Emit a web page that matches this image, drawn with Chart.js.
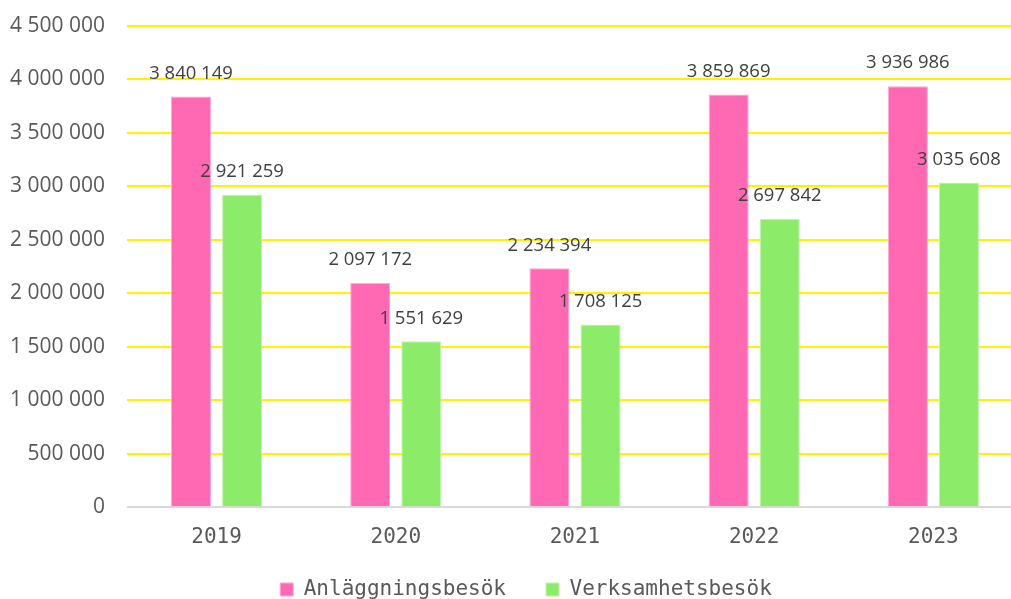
<!DOCTYPE html>
<html>
<head>
<meta charset="utf-8">
<script src="https://cdn.jsdelivr.net/npm/chart.js@4"></script>
<style>
  html, body { margin: 0; padding: 0; background: #fff; overflow: hidden; }
  #chart { display: block; }
</style>
</head>
<body>
<canvas id="chart" width="1024" height="599"></canvas>
<script>
const years = ['2019', '2020', '2021', '2022', '2023'];
const anlaggningsbesok = [3840149, 2097172, 2234394, 3859869, 3936986];
const verksamhetsbesok = [2921259, 1551629, 1708125, 2697842, 3035608];
const seriesNames = ['Anläggningsbesök', 'Verksamhetsbesök'];

function formatSv(v) {
    return String(v).replace(/\B(?=(\d{3})+(?!\d))/g, ' ');
}

// value labels above each bar
const valueLabels = {
    id: 'valueLabels',
    afterDatasetsDraw(chart) {
        const ctx = chart.ctx;
        ctx.save();
        ctx.font = '18.5px "Open Sans"';
        ctx.fillStyle = '#404040';
        ctx.textAlign = 'center';
        ctx.textBaseline = 'middle';
        chart.data.datasets.forEach((ds, i) => {
            chart.getDatasetMeta(i).data.forEach((bar, j) => {
                ctx.fillText(formatSv(ds.data[j]), bar.x, bar.y - 23);
            });
        });
        ctx.restore();
    }
};

// tighter legend box, nudged to sit under the original (clipped) chart centre
const legendFit = {
    id: 'legendFit',
    beforeInit(chart) {
        const fit = chart.legend.fit;
        chart.legend.fit = function () {
            fit.call(this);
            this.height = 49;
        };
    },
    afterLayout(chart) {
        chart.legend.left += 19;
        chart.legend.top -= 11;
    }
};

new Chart(document.getElementById('chart'), {
    type: 'bar',
    data: {
        labels: years,
        datasets: [{
            label: seriesNames[0],
            data: anlaggningsbesok,
            backgroundColor: '#FF69B4',
            borderColor: '#FFA8D5',
            borderWidth: 1
        }, {
            label: seriesNames[1],
            data: verksamhetsbesok,
            backgroundColor: '#8CEC69',
            borderColor: '#C0F5AC',
            borderWidth: 1
        }]
    },
    options: {
        responsive: false,
        animation: false,
        categoryPercentage: 0.57,
        barPercentage: 0.784,
        layout: {
            padding: { top: 26, left: 10, right: 1, bottom: 0 }
        },
        scales: {
            x: {
                grid: {
                    color: 'rgba(0,0,0,0)',
                    tickColor: 'rgba(0,0,0,0)',
                    tickLength: 17.5
                },
                border: { display: false },
                ticks: {
                    padding: 0,
                    color: '#595959',
                    font: { family: '"DejaVu Sans Mono"', size: 21 }
                }
            },
            y: {
                min: 0,
                max: 4500000,
                grid: {
                    lineWidth: 2,
                    color: (c) => c.tick && c.tick.value === 0 ? '#D9D9D9' : '#FFF200',
                    tickColor: 'rgba(0,0,0,0)',
                    tickLength: 22
                },
                border: { display: false },
                ticks: {
                    stepSize: 500000,
                    padding: 0,
                    color: '#595959',
                    font: { family: '"Open Sans"', size: 21 },
                    callback: (v) => formatSv(v)
                }
            }
        },
        plugins: {
            legend: {
                position: 'bottom',
                labels: {
                    boxWidth: 13,
                    boxHeight: 13,
                    padding: 40,
                    color: '#595959',
                    font: { family: '"DejaVu Sans Mono"', size: 21 }
                }
            },
            tooltip: { enabled: false }
        }
    },
    plugins: [valueLabels, legendFit]
});
</script>
</body>
</html>
